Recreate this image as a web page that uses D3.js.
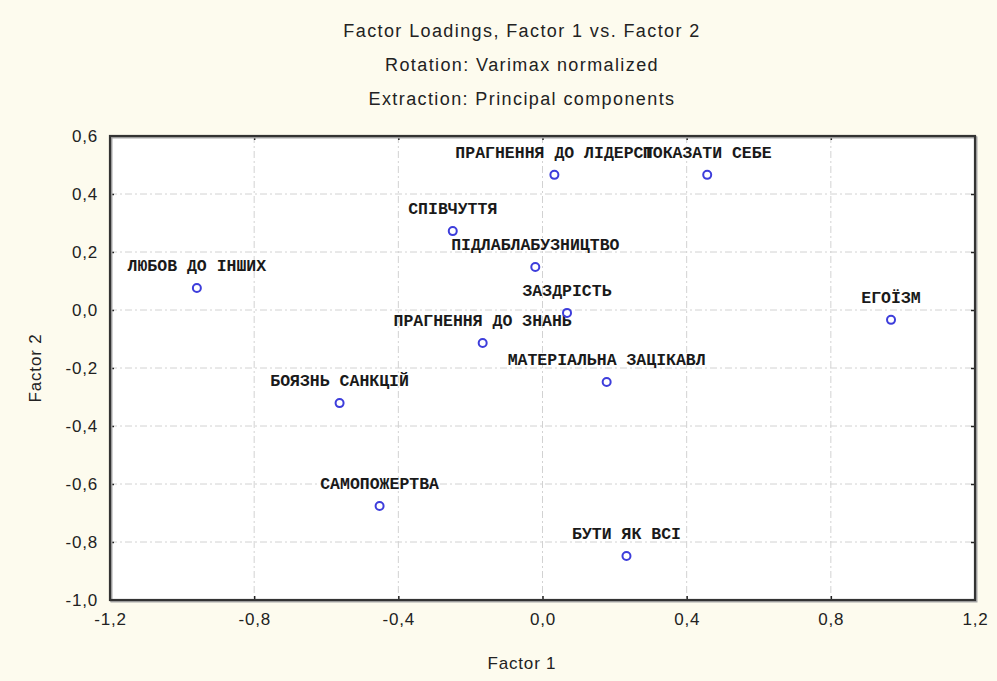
<!DOCTYPE html>
<html>
<head>
<meta charset="utf-8">
<script src="https://cdn.jsdelivr.net/npm/d3@7"></script>
<style>
  html, body { margin: 0; padding: 0; background: #fdfbee; }
  svg { display: block; }
</style>
</head>
<body>
<svg id="chart" width="997" height="681"></svg>
<script>
// ---- data ----
const variables = [
  "ЛЮБОВ ДО ІНШИХ",
  "СПІВЧУТТЯ",
  "ПРАГНЕННЯ ДО ЛІДЕРСТ",
  "ПОКАЗАТИ СЕБЕ",
  "ПІДЛАБЛАБУЗНИЦТВО",
  "ЗАЗДРІСТЬ",
  "ЕГОЇЗМ",
  "ПРАГНЕННЯ ДО ЗНАНЬ",
  "МАТЕРІАЛЬНА ЗАЦІКАВЛ",
  "БОЯЗНЬ САНКЦІЙ",
  "САМОПОЖЕРТВА",
  "БУТИ ЯК ВСІ"
];
const factor1 = [-0.959, -0.249, 0.033, 0.457, -0.020, 0.068, 0.967, -0.166, 0.178, -0.563, -0.452, 0.233];
const factor2 = [0.076, 0.272, 0.466, 0.466, 0.148, -0.010, -0.034, -0.114, -0.248, -0.321, -0.676, -0.848];
const xTicks = [-1.2, -0.8, -0.4, 0.0, 0.4, 0.8, 1.2];
const yTicks = [0.6, 0.4, 0.2, 0.0, -0.2, -0.4, -0.6, -0.8, -1.0];
const titleLines = ["Factor Loadings, Factor 1 vs. Factor 2", "Rotation: Varimax normalized", "Extraction: Principal components"];
const xTitle = "Factor 1";
const yTitle = "Factor 2";

// ---- layout ----
const svg = d3.select("#chart");
const plot = { left: 110, top: 136, right: 975, bottom: 600 };
const x = d3.scaleLinear().domain([-1.2, 1.2]).range([plot.left, plot.right]);
const y = d3.scaleLinear().domain([-1.0, 0.6]).range([plot.bottom, plot.top]);
const loc = d3.formatLocale({ decimal: ",", thousands: " ", grouping: [3], currency: ["", ""], minus: "-" });
const fmt = loc.format(".1f");
const sans = "Liberation Sans, Arial, sans-serif";

svg.append("rect").attr("width", 997).attr("height", 681).attr("fill", "#fdfbee");

// titles
svg.append("g").selectAll("text").data(titleLines).join("text")
  .attr("x", 522).attr("y", (d, i) => 37 + i * 34)
  .attr("text-anchor", "middle")
  .attr("font-family", sans)
  .attr("font-size", 18).attr("letter-spacing", 1.4).attr("fill", "#222")
  .text(d => d);

// plot background
svg.append("rect")
  .attr("x", plot.left).attr("y", plot.top)
  .attr("width", plot.right - plot.left).attr("height", plot.bottom - plot.top)
  .attr("fill", "#ffffff");

// gridlines
const grid = svg.append("g").attr("stroke", "#d2d2d2").attr("stroke-width", 1).attr("stroke-dasharray", "7,3,2,3");
grid.selectAll("line.v").data(xTicks.slice(1, -1)).join("line")
  .attr("x1", d => x(d)).attr("x2", d => x(d))
  .attr("y1", plot.top).attr("y2", plot.bottom);
grid.selectAll("line.h").data(yTicks.slice(1, -1)).join("line")
  .attr("x1", plot.left).attr("x2", plot.right)
  .attr("y1", d => y(d)).attr("y2", d => y(d));

// axes (ticks inside, labels outside)
const xAxis = d3.axisBottom(x).tickValues(xTicks).tickFormat(fmt).tickSizeInner(-4).tickSizeOuter(0).tickPadding(13);
const yAxis = d3.axisLeft(y).tickValues(yTicks).tickFormat(fmt).tickSizeInner(-4).tickSizeOuter(0).tickPadding(12);
const gx = svg.append("g").attr("transform", `translate(0,${plot.bottom})`).call(xAxis);
const gy = svg.append("g").attr("transform", `translate(${plot.left},0)`).call(yAxis);
const gxt = svg.append("g").attr("transform", `translate(0,${plot.top})`).call(d3.axisTop(x).tickValues(xTicks).tickFormat("").tickSizeInner(-4).tickSizeOuter(0));
const gyr = svg.append("g").attr("transform", `translate(${plot.right},0)`).call(d3.axisRight(y).tickValues(yTicks).tickFormat("").tickSizeInner(-4).tickSizeOuter(0));
[gx, gy, gxt, gyr].forEach(g => {
  g.select(".domain").remove();
  g.selectAll(".tick line").attr("stroke", "#222").attr("stroke-width", 1.5);
  g.selectAll(".tick text").attr("font-family", sans).attr("font-size", 17).attr("letter-spacing", 0.8).attr("fill", "#222");
});
gx.selectAll(".tick text").attr("dy", "0.71em");

// frame
svg.append("rect")
  .attr("x", plot.left + 1.5).attr("y", plot.top + 1.5)
  .attr("width", plot.right - plot.left).attr("height", plot.bottom - plot.top)
  .attr("fill", "none").attr("stroke", "#a8a8a8").attr("stroke-width", 2);
svg.append("rect")
  .attr("x", plot.left).attr("y", plot.top)
  .attr("width", plot.right - plot.left).attr("height", plot.bottom - plot.top)
  .attr("fill", "none").attr("stroke", "#333").attr("stroke-width", 2.2);

// axis titles
svg.append("text").attr("x", 522).attr("y", 669).attr("text-anchor", "middle")
  .attr("font-family", sans).attr("font-size", 17).attr("letter-spacing", 0.8).attr("fill", "#222")
  .text(xTitle);
svg.append("text").attr("transform", `translate(41,${(plot.top + plot.bottom) / 2}) rotate(-90)`)
  .attr("text-anchor", "middle")
  .attr("font-family", sans).attr("font-size", 17).attr("letter-spacing", 0.8).attr("fill", "#222")
  .text(yTitle);

// points and labels
const pts = variables.map((v, i) => ({ name: v, f1: factor1[i], f2: factor2[i] }));
const g = svg.append("g");
g.selectAll("text.lbl").data(pts).join("text")
  .attr("class", "lbl")
  .attr("x", d => x(d.f1)).attr("y", d => y(d.f2) - 17)
  .attr("text-anchor", "middle")
  .attr("font-family", "Liberation Mono, DejaVu Sans Mono, monospace")
  .attr("font-weight", "bold").attr("font-size", 16.5).attr("fill", "#1a1a1a")
  .text(d => d.name);
g.selectAll("circle").data(pts).join("circle")
  .attr("cx", d => x(d.f1)).attr("cy", d => y(d.f2)).attr("r", 4)
  .attr("fill", "none").attr("stroke", "#3d3ddb").attr("stroke-width", 2);
</script>
</body>
</html>
